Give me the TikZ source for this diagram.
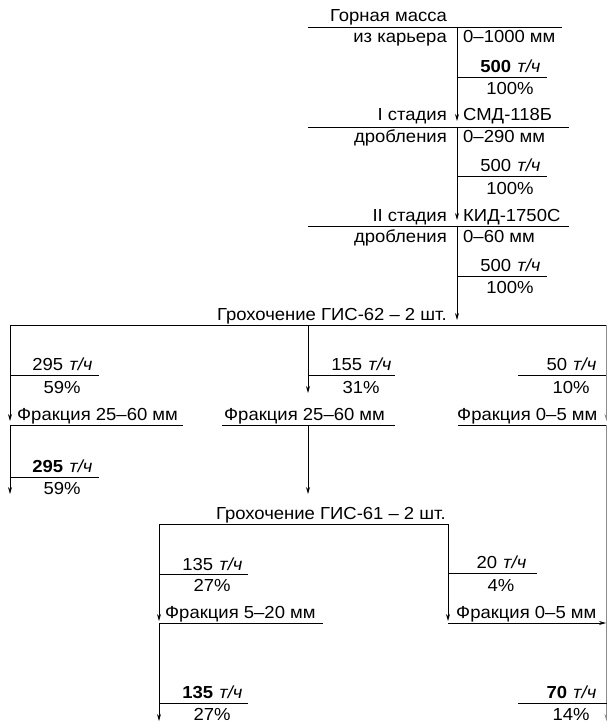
\documentclass[tikz,border=0pt]{standalone}
\usepackage{fontspec}
\setmainfont{Liberation Sans}[FakeStretch=1.06]
\newfontfamily\slntfont{Liberation Sans}[FakeStretch=1.06,FakeSlant=0.2]
\usetikzlibrary{arrows.meta}
\newcommand{\tch}{{\slntfont т/ч}}
\begin{document}
\begin{tikzpicture}[x=1bp,y=-1bp,
  ln/.style={line width=0.8bp},
  arr/.style={ln,-{Stealth[length=7bp,width=4bp]}},
  rarr/.style={ln,black!45,-{Stealth[length=7bp,width=4bp]}},
  txt/.style={inner sep=0pt,font=\fontsize{17.5}{21}\selectfont},
  tl/.style={txt,anchor=base east},
  tr/.style={txt,anchor=base west},
  tc/.style={txt,anchor=base}]
\useasboundingbox (0,0) rectangle (607,727);

% ---------- top column ----------
\node[tl] (gm)  at (447,22) {Горная масса};
\node[tl] (izk) at (447,43) {из карьера};
\node[tr] (r0)  at (463,43) {0–1000 мм};
\node[tc] (q1)  at (510,73) {\textbf{500} \tch};
\node[tc] (p1)  at (510,95) {100\%};
\node[tl] (st1) at (447,121) {I стадия};
\node[tr] (m1)  at (463,121) {СМД-118Б};
\node[tl] (dr1) at (447,143) {дробления};
\node[tr] (r1)  at (463,143) {0–290 мм};
\node[tc] (q2)  at (510,171) {500 \tch};
\node[tc] (p2)  at (510,194) {100\%};
\node[tl] (st2) at (447,221) {II стадия};
\node[tr] (m2)  at (463,221) {КИД-1750С};
\node[tl] (dr2) at (447,242) {дробления};
\node[tr] (r2)  at (463,242) {0–60 мм};
\node[tc] (q3)  at (510,271) {500 \tch};
\node[tc] (p3)  at (510,293) {100\%};
\node[tl] (g62) at (447,320) {Грохочение ГИС-62 – 2 шт.};

\coordinate (h0l) at (308,27);  \coordinate (h0r) at (562,27);  \coordinate (t0) at (457,27);
\coordinate (u1l) at (457,77);  \coordinate (u1r) at (547,77);
\coordinate (a1)  at (457,121);
\coordinate (h1l) at (308,127); \coordinate (h1r) at (569,127); \coordinate (t1) at (457,127);
\coordinate (u2l) at (457,176); \coordinate (u2r) at (547,176);
\coordinate (a2)  at (457,220);
\coordinate (h2l) at (308,226); \coordinate (h2r) at (569,226); \coordinate (t2) at (457,226);
\coordinate (u3l) at (457,276); \coordinate (u3r) at (547,276);
\coordinate (a3)  at (457,320);

\draw[ln] (h0l) -- (h0r);
\draw[ln] (u1l) -- (u1r);
\draw[ln] (h1l) -- (h1r);
\draw[ln] (u2l) -- (u2r);
\draw[ln] (h2l) -- (h2r);
\draw[ln] (u3l) -- (u3r);
\draw[arr] (t0) -- (a1);
\draw[arr] (t1) -- (a2);
\draw[arr] (t2) -- (a3);

% ---------- first screening ----------
\coordinate (bl) at (10,325);  \coordinate (bm) at (308,325); \coordinate (br) at (606.5,325);
\coordinate (bR) at (607,325);
\draw[ln] (bl) -- (bR);

% left branch
\node[tc] (q4) at (62,370) {295 \tch};
\node[tc] (p4) at (62,393) {59\%};
\node[tr] (f4) at (17,420) {Фракция 25–60 мм};
\node[tc] (q5) at (62,472) {\textbf{295} \tch};
\node[tc] (p5) at (62,494) {59\%};
\coordinate (u4l) at (10,375);  \coordinate (u4r) at (99,375);
\coordinate (a4)  at (10,421);
\coordinate (h4l) at (10,425);  \coordinate (h4r) at (183,425);
\coordinate (u5l) at (10,477);  \coordinate (u5r) at (99,477);
\coordinate (a5)  at (10,494);
\draw[ln] (u4l) -- (u4r);
\draw[ln] (h4l) -- (h4r);
\draw[ln] (u5l) -- (u5r);
\draw[arr] (bl) -- (a4);
\draw[arr] (h4l) -- (a5);

% middle branch
\node[tc] (q6) at (361,370) {155 \tch};
\node[tc] (p6) at (361,393) {31\%};
\node[tr] (f6) at (224,420) {Фракция 25–60 мм};
\coordinate (u6l) at (308,375); \coordinate (u6r) at (395,375);
\coordinate (a6)  at (308,393);
\coordinate (h6l) at (222,425); \coordinate (h6r) at (395,425); \coordinate (t6) at (308,425);
\coordinate (a7)  at (308,494);
\draw[ln] (u6l) -- (u6r);
\draw[ln] (h6l) -- (h6r);
\draw[arr] (bm) -- (a6);
\draw[arr] (t6) -- (a7);

% right branch
\node[tc] (q8) at (571,370) {50 \tch};
\node[tc] (p8) at (571,393) {10\%};
\node[tr] (f8) at (457,420) {Фракция 0–5 мм};
\coordinate (u8l) at (518,375); \coordinate (u8r) at (607,375);
\coordinate (a8)  at (606.5,421);
\coordinate (h8l) at (458,425); \coordinate (h8r) at (607,425); \coordinate (t8) at (606.5,425);
\coordinate (a9)  at (606.5,721);
\draw[ln] (u8l) -- (u8r);
\draw[ln] (h8l) -- (h8r);
\draw[rarr] (br) -- (a8);
\draw[rarr] (t8) -- (a9);

% ---------- second screening ----------
\node[tl] (g61) at (446,519) {Грохочение ГИС-61 – 2 шт.};
\coordinate (cl) at (159,524); \coordinate (cr) at (448,524);
\draw[ln] (cl) -- (cr);

% left sub-branch
\node[tc] (q10) at (212,570) {135 \tch};
\node[tc] (p10) at (212,591) {27\%};
\node[tr] (f10) at (165,618) {Фракция 5–20 мм};
\node[tc] (q11) at (212,698) {\textbf{135} \tch};
\node[tc] (p11) at (212,720) {27\%};
\coordinate (u10l) at (159,574); \coordinate (u10r) at (248,574);
\coordinate (a10)  at (159,621);
\coordinate (h10l) at (159,623); \coordinate (h10r) at (323,623);
\coordinate (u11l) at (159,703); \coordinate (u11r) at (248,703);
\coordinate (a11)  at (159,721);
\draw[ln] (u10l) -- (u10r);
\draw[ln] (h10l) -- (h10r);
\draw[ln] (u11l) -- (u11r);
\draw[arr] (cl) -- (a10);
\draw[arr] (h10l) -- (a11);

% right sub-branch
\node[tc] (q12) at (501,568) {20 \tch};
\node[tc] (p12) at (501,591) {4\%};
\node[tr] (f12) at (456,618) {Фракция 0–5 мм};
\node[tc] (q13) at (571,698) {\textbf{70} \tch};
\node[tc] (p13) at (571,720) {14\%};
\coordinate (u12l) at (448,573); \coordinate (u12r) at (537,573);
\coordinate (a12)  at (448,621);
\coordinate (h12l) at (448,623); \coordinate (h12r) at (606,623);
\coordinate (u13l) at (518,703); \coordinate (u13r) at (607,703);
\draw[ln] (u12l) -- (u12r);
\draw[ln] (u13l) -- (u13r);
\draw[arr] (cr) -- (a12);
\draw[arr] (h12l) -- (h12r);
\end{tikzpicture}
\end{document}
